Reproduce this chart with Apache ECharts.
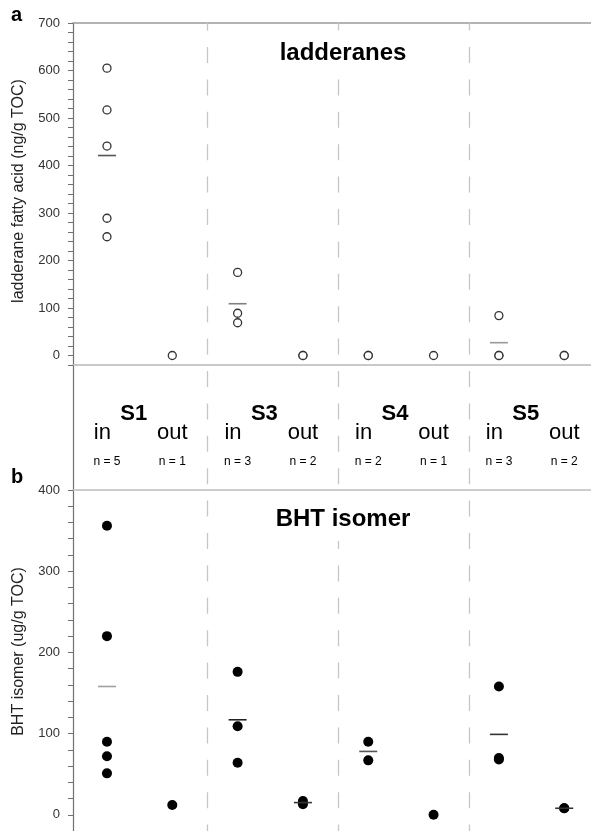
<!DOCTYPE html>
<html><head><meta charset="utf-8">
<script src="https://cdn.jsdelivr.net/npm/echarts@6/dist/echarts.min.js"></script>
<style>html,body{margin:0;padding:0;background:#fff}#c{width:591px;height:831px}</style>
</head><body><div id="c"></div>
<script>
// ---------- data ----------
const sites = ['S1', 'S3', 'S4', 'S5'];
const groups = ['in', 'out'];
const sampleCounts = [5, 1, 3, 2, 2, 1, 3, 2];
const ladderaneValues = [[605, 517, 441, 289, 250], [0], [175, 89, 69], [0, 0], [0, 0], [0], [84, 0, 0], [0, 0]];
const ladderaneMeans = [421, null, 109, null, null, null, 27, null];
const bhtValues = [[356, 220, 90, 72, 51], [12], [176, 109, 64], [17, 13], [90, 67], [0], [158, 70, 68], [8, 8]];
const bhtMeans = [158, null, 117, 15, 78, null, 99, 8];
const ladderaneTicks = [0, 100, 200, 300, 400, 500, 600, 700];
const bhtTicks = [0, 100, 200, 300, 400];

// ---------- style ----------
const FONT = "'Liberation Sans', Arial, Helvetica, sans-serif";
const X_MIN = 0.48, X_MAX = 8.41;
const ladderaneMeanColors = ['#555', null, '#808080', null, null, null, '#999', null];
const bhtMeanColors = ['#a0a0a0', null, '#222', '#333', '#555', null, '#333', '#333'];

const pos = i => i + 1;   // category slot -> x value
const boundaries = [1, 2, 3].map(k => 2 * k + 0.54);

function points(vals) {
  const out = [];
  vals.forEach((arr, i) => arr.forEach(v => out.push([pos(i), v])));
  return out;
}
function means(vals, colors) {
  const out = [];
  vals.forEach((m, i) => { if (m !== null) out.push({ value: [pos(i), m], itemStyle: { color: colors[i], opacity: 1 } }); });
  return out;
}

const chart = echarts.init(document.getElementById('c'), null, { renderer: 'canvas' });

const baseX = (grid, extra) => Object.assign({
  type: 'value', gridIndex: grid, min: X_MIN, max: X_MAX,
  axisTick: { show: false }, axisLabel: { show: false }, splitLine: { show: false },
}, extra);

const yCommon = (grid, min, max, ticks, name, namePad) => ({
  type: 'value', gridIndex: grid, min: min, max: max, interval: 20,
  axisLine: { show: true, onZero: false, lineStyle: { color: '#707070', width: 1.2 } },
  axisTick: { show: true, length: 5, lineStyle: { color: '#707070', width: 1 } },
  axisLabel: {
    margin: 13, color: '#333', fontSize: 13, fontFamily: FONT,
    formatter: v => (ticks.indexOf(v) >= 0 ? String(v) : '')
  },
  splitLine: { show: false },
  name: name, nameLocation: 'middle', nameGap: 46,
  nameTextStyle: { fontSize: 16, color: '#222', fontFamily: FONT, padding: namePad }
});

const labelSeries = (data, fontSize, weight) => ({
  type: 'scatter', xAxisIndex: 2, yAxisIndex: 1, symbolSize: 0, silent: true,
  itemStyle: { opacity: 1 },
  data: data,
  label: {
    show: true, position: 'inside', formatter: p => p.name,
    fontSize: fontSize, fontWeight: weight, color: '#000', fontFamily: FONT,
    align: 'center', verticalAlign: 'middle', opacity: 1
  }
});

const siteData = sites.map((s, k) => ({ name: s, value: [pos(2 * k) + 0.41, 0.605] }));
const groupData = [];
const nData = [];
sites.forEach((s, k) => groups.forEach((g, j) => {
  const i = 2 * k + j;
  groupData.push({ name: g, value: [pos(i) - (j === 0 ? 0.07 : 0), 0.455] });
  nData.push({ name: 'n = ' + sampleCounts[i], value: [pos(i), 0.228] });
}));

chart.setOption({
  animation: false,
  backgroundColor: '#fff',
  grid: [
    { left: 73, right: 0, top: 23, height: 342 },
    { left: 73, right: 0, top: 365, height: 125 },
    { left: 73, right: 0, top: 490, height: 342 },
    { left: 73, right: 0, top: 23, bottom: 0 }
  ],
  xAxis: [
    baseX(0, { position: 'bottom', axisLine: { show: true, onZero: false, lineStyle: { color: '#b8b8b8', width: 1.5 } } }),
    baseX(0, { position: 'top', axisLine: { show: true, onZero: false, lineStyle: { color: '#9a9a9a', width: 1.5 } } }),
    baseX(1, { show: false }),
    baseX(2, { position: 'top', axisLine: { show: true, onZero: false, lineStyle: { color: '#bdbdbd', width: 1.5 } } }),
    baseX(3, { show: false })
  ],
  yAxis: [
    yCommon(0, -20, 700, ladderaneTicks, 'ladderane fatty acid (ng/g TOC)', [0, 0, 0, 6]),
    { type: 'value', gridIndex: 1, min: 0, max: 1, axisLine: { show: true, onZero: false, lineStyle: { color: '#707070', width: 1.2 } },
      axisTick: { show: false }, axisLabel: { show: false }, splitLine: { show: false } },
    yCommon(2, -20, 400, bhtTicks, 'BHT isomer (ug/g TOC)', [0, 0, 0, 18]),
    { type: 'value', gridIndex: 3, min: 0, max: 1, show: false }
  ],
  graphic: [
    { type: 'text', x: 343, y: 53, z: 10, style: { text: 'ladderanes', font: 'bold 24px ' + FONT, fill: '#000', textAlign: 'center', textVerticalAlign: 'middle', backgroundColor: '#fff', padding: [8, 4, 10, 4] } },
    { type: 'text', x: 343, y: 519, z: 10, style: { text: 'BHT isomer', font: 'bold 24px ' + FONT, fill: '#000', textAlign: 'center', textVerticalAlign: 'middle', backgroundColor: '#fff', padding: [8, 4, 12, 4] } },
    { type: 'text', x: 11, y: 15, style: { text: 'a', font: 'bold 20px ' + FONT, fill: '#000', textAlign: 'left', textVerticalAlign: 'middle' } },
    { type: 'text', x: 11, y: 477, style: { text: 'b', font: 'bold 20px ' + FONT, fill: '#000', textAlign: 'left', textVerticalAlign: 'middle' } }
  ],
  series: [
    { type: 'scatter', xAxisIndex: 4, yAxisIndex: 3, data: [], silent: true, z: 1,
      markLine: { silent: true, symbol: 'none', label: { show: false }, animation: false,
        lineStyle: { color: '#c6c6c6', width: 1.3, type: [16, 16.4], dashOffset: 8.4 },
        data: boundaries.map(b => [{ coord: [b, 1] }, { coord: [b, 0] }]) } },
    { type: 'scatter', xAxisIndex: 0, yAxisIndex: 0, symbol: 'rect', symbolSize: [18, 1.6], z: 2, silent: true,
      data: means(ladderaneMeans, ladderaneMeanColors) },
    { type: 'scatter', xAxisIndex: 0, yAxisIndex: 0, symbol: 'circle', symbolSize: 8, z: 3, silent: true,
      itemStyle: { color: '#fff', borderColor: '#333', borderWidth: 1.3, opacity: 1 },
      data: points(ladderaneValues) },
    { type: 'scatter', xAxisIndex: 3, yAxisIndex: 2, symbol: 'circle', symbolSize: 10, z: 3, silent: true,
      itemStyle: { color: '#000', opacity: 1 },
      data: points(bhtValues) },
    { type: 'scatter', xAxisIndex: 3, yAxisIndex: 2, symbol: 'rect', symbolSize: [18, 1.6], z: 4, silent: true,
      data: means(bhtMeans, bhtMeanColors) },
    labelSeries(siteData, 22, 'bold'),
    labelSeries(groupData, 22, 'normal'),
    labelSeries(nData, 12, 'normal')
  ]
});
</script></body></html>
